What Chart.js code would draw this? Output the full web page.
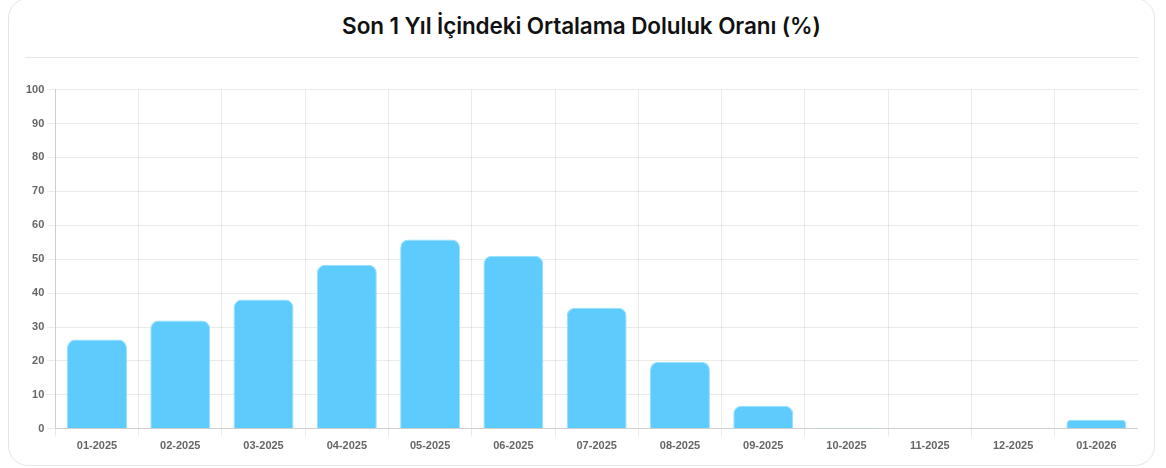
<!DOCTYPE html>
<html>
<head>
<meta charset="utf-8">
<script src="https://cdn.jsdelivr.net/npm/chart.js@4.4.0/dist/chart.umd.min.js"></script>
<style>
    html, body { margin: 0; padding: 0; background: #fff; }
    .card {
        position: absolute;
        left: 8px;
        top: -2px;
        width: 1147px;
        height: 468px;
        border: 1px solid #e6e6e6;
        border-radius: 20px;
        box-sizing: border-box;
        background: #fff;
    }
    .card-header {
        position: absolute;
        left: 16px;
        right: 16px;
        top: 0;
        height: 58px;
        border-bottom: 1px solid #e8e8e8;
        text-align: center;
    }
    .card-header h3 {
        margin: 0;
        padding-top: 13px;
        font-family: Inter, "Noto Sans", sans-serif;
        font-weight: 600;
        font-size: 22.5px;
        color: #111;
        letter-spacing: -0.1px;
    }
    .chart-wrap {
        position: absolute;
        left: 14px;
        right: 16px;
        top: 81px;
        height: 376px;
    }
</style>
</head>
<body>
<div class="card">
    <div class="card-header"><h3>Son 1 Yıl İçindeki Ortalama Doluluk Oranı (%)</h3></div>
    <div class="chart-wrap"><canvas id="occupancyChart"></canvas></div>
</div>
<script>
    // Months (last 12 + current)
    const months = ['01-2025', '02-2025', '03-2025', '04-2025', '05-2025', '06-2025', '07-2025',
        '08-2025', '09-2025', '10-2025', '11-2025', '12-2025', '01-2026'];
    // Average occupancy (%)
    const occupancy = [26.3, 31.9, 38.1, 48.4, 55.8, 51.0, 35.7, 19.8, 6.8, 0.3, 0, 0, 2.7];

    const tickFont = { family: 'Arial, "Liberation Sans", sans-serif', size: 11, weight: 'bold' };

    const ctx = document.getElementById('occupancyChart').getContext('2d');
    const occupancyChart = new Chart(ctx, {
        type: 'bar',
        data: {
            labels: months,
            datasets: [{
                label: 'Doluluk (%)',
                data: occupancy,
                backgroundColor: '#5ecbfd',
                borderColor: 'rgba(140, 220, 255, 0.9)',
                borderWidth: 1,
                borderRadius: 8,
                borderSkipped: 'bottom'
            }]
        },
        options: {
            responsive: true,
            maintainAspectRatio: false,
            animation: false,
            plugins: {
                legend: { display: false },
                tooltip: { enabled: false }
            },
            scales: {
                y: {
                    min: 0,
                    max: 100,
                    ticks: { stepSize: 10, color: '#666', font: tickFont },
                    grid: { color: 'rgba(0, 0, 0, 0.08)' },
                    border: { color: '#cfcfcf' }
                },
                x: {
                    ticks: { color: '#666', font: tickFont },
                    grid: { color: 'rgba(0, 0, 0, 0.08)' },
                    border: { color: '#cfcfcf' }
                }
            }
        }
    });
</script>
</body>
</html>
